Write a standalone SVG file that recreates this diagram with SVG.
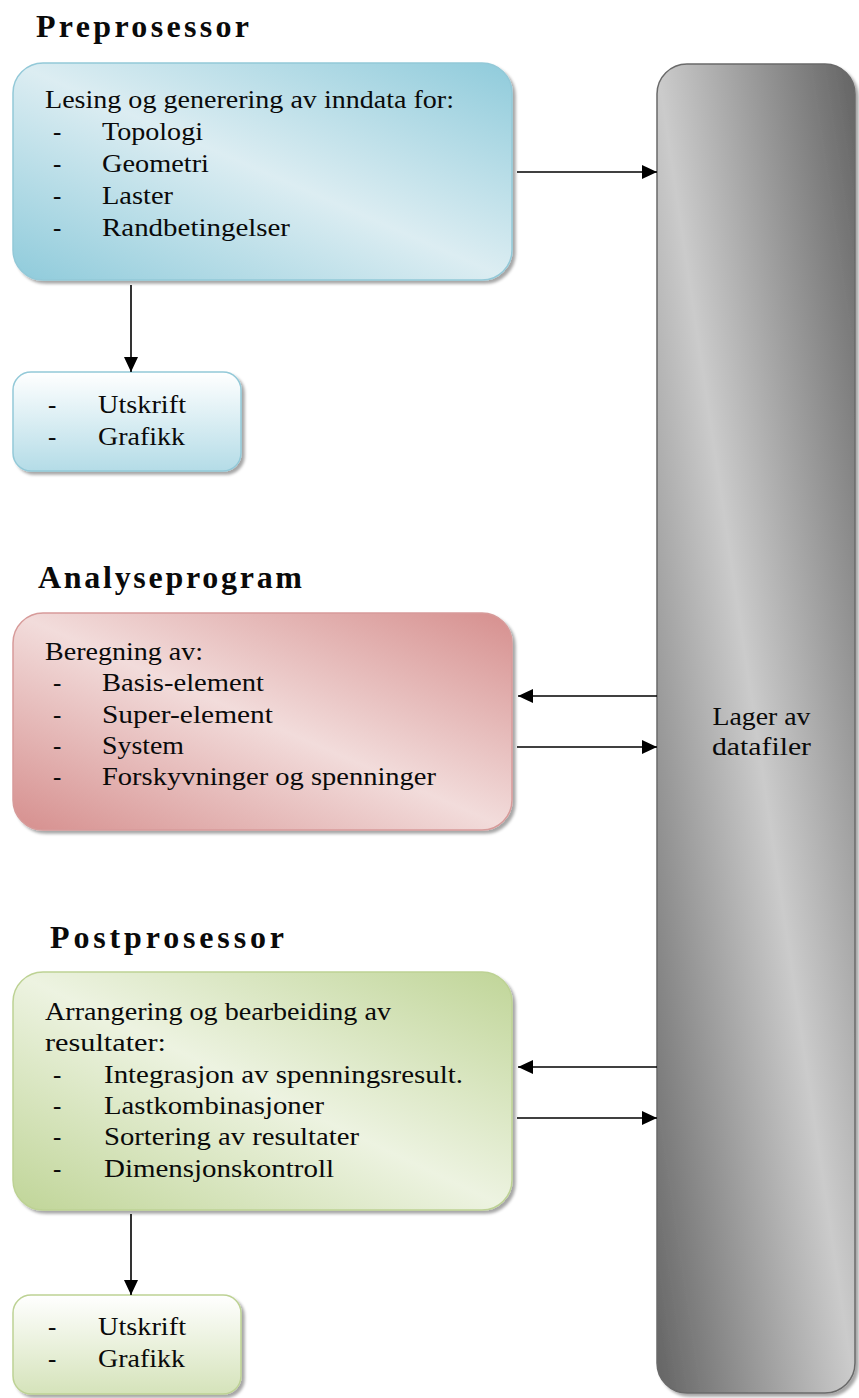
<svg xmlns="http://www.w3.org/2000/svg" width="859" height="1398" viewBox="0 0 859 1398">
<style>
.t{font-family:"Liberation Serif","Times New Roman",serif;font-size:25px;fill:#0a0a0a}
.h{font-family:"Liberation Serif","Times New Roman",serif;font-size:32px;font-weight:bold;fill:#0a0a0a}
.c{fill:none;stroke:#000;stroke-width:1.6}
</style>
<defs>
<filter id="sh" x="-5%" y="-5%" width="112%" height="112%">
<feDropShadow dx="3" dy="3" stdDeviation="1.5" flood-color="#000" flood-opacity="0.35"/>
</filter>
<linearGradient id="gBlue" x1="1" y1="0" x2="0" y2="1">
<stop offset="0" stop-color="#8fcbdb"/><stop offset="0.5" stop-color="#dcedf2"/><stop offset="1" stop-color="#8fcbdb"/>
</linearGradient>
<linearGradient id="gRed" x1="1" y1="0" x2="0" y2="1">
<stop offset="0" stop-color="#d68f8e"/><stop offset="0.5" stop-color="#f2dcdb"/><stop offset="1" stop-color="#d68f8e"/>
</linearGradient>
<linearGradient id="gGreen" x1="1" y1="0" x2="0" y2="1">
<stop offset="0" stop-color="#c0d598"/><stop offset="0.5" stop-color="#edf3e1"/><stop offset="1" stop-color="#c0d598"/>
</linearGradient>
<linearGradient id="gGray" x1="1" y1="0" x2="0" y2="1">
<stop offset="0" stop-color="#646464"/><stop offset="0.5" stop-color="#cbcbcb"/><stop offset="1" stop-color="#646464"/>
</linearGradient>
<linearGradient id="gBlueS" x1="0" y1="0" x2="0" y2="1">
<stop offset="0" stop-color="#ffffff"/><stop offset="1" stop-color="#b4dce7"/>
</linearGradient>
<linearGradient id="gGreenS" x1="0" y1="0" x2="0" y2="1">
<stop offset="0" stop-color="#ffffff"/><stop offset="1" stop-color="#d5e3ba"/>
</linearGradient>
<marker id="ah" markerUnits="userSpaceOnUse" markerWidth="16" markerHeight="14" refX="15" refY="7" orient="auto">
<path d="M0,0 L15,7 L0,14 z" fill="#000"/>
</marker>
</defs>

<g id="titles">
<text class="h" x="36" y="37" textLength="213" lengthAdjust="spacing">Preprosessor</text>
<text class="h" x="38" y="588" textLength="264" lengthAdjust="spacing">Analyseprogram</text>
<text class="h" x="50" y="948" textLength="234" lengthAdjust="spacing">Postprosessor</text>
</g>

<g id="lager">
<rect x="657" y="64" width="198" height="1329" rx="30" fill="url(#gGray)" stroke="#6a6a6a" stroke-width="1.5" filter="url(#sh)"/>
<text class="t" x="761.5" y="725" text-anchor="middle" textLength="98" lengthAdjust="spacingAndGlyphs">Lager av</text>
<text class="t" x="761.5" y="755" text-anchor="middle" textLength="99" lengthAdjust="spacingAndGlyphs">datafiler</text>
</g>

<g id="preprosessor">
<rect x="13" y="63" width="499" height="217" rx="30" fill="url(#gBlue)" stroke="#93c9d8" stroke-width="1.5" filter="url(#sh)"/>
<text class="t" x="45" y="108" textLength="409" lengthAdjust="spacingAndGlyphs">Lesing og generering av inndata for:</text>
<text class="t" x="53" y="140">-</text><text class="t" x="102" y="140" textLength="101" lengthAdjust="spacingAndGlyphs">Topologi</text>
<text class="t" x="53" y="172">-</text><text class="t" x="102" y="172" textLength="107" lengthAdjust="spacingAndGlyphs">Geometri</text>
<text class="t" x="53" y="204">-</text><text class="t" x="102" y="204" textLength="71" lengthAdjust="spacingAndGlyphs">Laster</text>
<text class="t" x="53" y="236">-</text><text class="t" x="102" y="236" textLength="188" lengthAdjust="spacingAndGlyphs">Randbetingelser</text>
</g>

<g id="pre-utskrift">
<rect x="13" y="372" width="228" height="99" rx="18" fill="url(#gBlueS)" stroke="#93c9d8" stroke-width="1.5" filter="url(#sh)"/>
<text class="t" x="48" y="413">-</text><text class="t" x="98" y="413" textLength="88" lengthAdjust="spacingAndGlyphs">Utskrift</text>
<text class="t" x="48" y="445">-</text><text class="t" x="98" y="445" textLength="87" lengthAdjust="spacingAndGlyphs">Grafikk</text>
</g>

<g id="analyseprogram">
<rect x="13" y="613" width="499" height="217" rx="30" fill="url(#gRed)" stroke="#d79b9a" stroke-width="1.5" filter="url(#sh)"/>
<text class="t" x="45" y="660" textLength="158" lengthAdjust="spacingAndGlyphs">Beregning av:</text>
<text class="t" x="53" y="691">-</text><text class="t" x="102" y="691" textLength="162" lengthAdjust="spacingAndGlyphs">Basis-element</text>
<text class="t" x="53" y="723">-</text><text class="t" x="102" y="723" textLength="171" lengthAdjust="spacingAndGlyphs">Super-element</text>
<text class="t" x="53" y="754">-</text><text class="t" x="102" y="754" textLength="82" lengthAdjust="spacingAndGlyphs">System</text>
<text class="t" x="53" y="785">-</text><text class="t" x="102" y="785" textLength="334" lengthAdjust="spacingAndGlyphs">Forskyvninger og spenninger</text>
</g>

<g id="postprosessor">
<rect x="13" y="972" width="499" height="238" rx="30" fill="url(#gGreen)" stroke="#bdd294" stroke-width="1.5" filter="url(#sh)"/>
<text class="t" x="45" y="1020" textLength="346" lengthAdjust="spacingAndGlyphs">Arrangering og bearbeiding av</text>
<text class="t" x="45" y="1051" textLength="121" lengthAdjust="spacingAndGlyphs">resultater:</text>
<text class="t" x="53" y="1083">-</text><text class="t" x="104" y="1083" textLength="359" lengthAdjust="spacingAndGlyphs">Integrasjon av spenningsresult.</text>
<text class="t" x="53" y="1114">-</text><text class="t" x="104" y="1114" textLength="220" lengthAdjust="spacingAndGlyphs">Lastkombinasjoner</text>
<text class="t" x="53" y="1145">-</text><text class="t" x="104" y="1145" textLength="255" lengthAdjust="spacingAndGlyphs">Sortering av resultater</text>
<text class="t" x="53" y="1177">-</text><text class="t" x="104" y="1177" textLength="230" lengthAdjust="spacingAndGlyphs">Dimensjonskontroll</text>
</g>

<g id="post-utskrift">
<rect x="13" y="1295" width="228" height="99" rx="18" fill="url(#gGreenS)" stroke="#bdd294" stroke-width="1.5" filter="url(#sh)"/>
<text class="t" x="48" y="1335">-</text><text class="t" x="98" y="1335" textLength="88" lengthAdjust="spacingAndGlyphs">Utskrift</text>
<text class="t" x="48" y="1367">-</text><text class="t" x="98" y="1367" textLength="87" lengthAdjust="spacingAndGlyphs">Grafikk</text>
</g>

<g id="connectors">
<line class="c" x1="517" y1="172" x2="657" y2="172" marker-end="url(#ah)"/>
<line class="c" x1="131" y1="285" x2="131" y2="372" marker-end="url(#ah)"/>
<line class="c" x1="657" y1="696" x2="518" y2="696" marker-end="url(#ah)"/>
<line class="c" x1="517" y1="747" x2="657" y2="747" marker-end="url(#ah)"/>
<line class="c" x1="657" y1="1067" x2="518" y2="1067" marker-end="url(#ah)"/>
<line class="c" x1="517" y1="1118" x2="657" y2="1118" marker-end="url(#ah)"/>
<line class="c" x1="131" y1="1214" x2="131" y2="1295" marker-end="url(#ah)"/>
</g>
</svg>
